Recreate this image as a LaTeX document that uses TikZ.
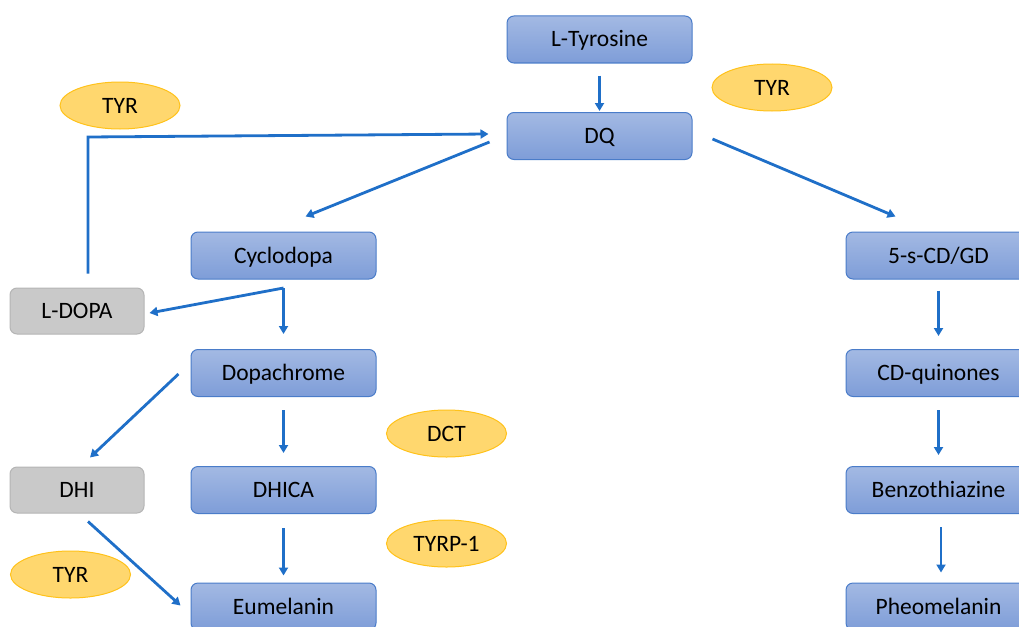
\documentclass[tikz,border=0pt]{standalone}
\usepackage{fontspec}
\setmainfont{Carlito}
\usetikzlibrary{calc,arrows.meta,shapes.geometric}
\definecolor{boxtop}{HTML}{A3B9E3}
\definecolor{boxbot}{HTML}{7E9DD8}
\definecolor{boxline}{HTML}{4A7CC9}
\definecolor{grayfill}{HTML}{C9C9C9}
\definecolor{grayline}{HTML}{B5B5B5}
\definecolor{ellfill}{HTML}{FFD76E}
\definecolor{ellline}{HTML}{FFC21A}
\definecolor{arr}{HTML}{1F6FC8}
\tikzset{
  lbl/.style={font=\fontsize{23.5}{26}\selectfont, text height=18pt, text depth=3pt},
  bluebox/.style={lbl, draw=boxline, line width=1pt, rounded corners=7pt, top color=boxtop, bottom color=boxbot,
    minimum width=185pt, minimum height=47pt, inner sep=0pt},
  graybox/.style={lbl, draw=grayline, line width=1pt, rounded corners=7pt, fill=grayfill,
    minimum width=134pt, minimum height=46pt, inner sep=0pt},
  enz/.style={lbl, ellipse, draw=ellline, line width=1pt, fill=ellfill, minimum width=120pt, minimum height=47pt,
    inner sep=0pt},
  flow/.style={draw=arr, line width=2.8pt, -{Triangle[length=8pt,width=9pt]}}
}
\begin{document}
\begin{tikzpicture}[x=1pt,y=-1pt]
\useasboundingbox (0,0) rectangle (1019,626);
\clip (0,0) rectangle (1019,626);
% blue boxes
\node[bluebox] (ltyr) at (599.5,39.5) {L-Tyrosine};
\node[bluebox] (dq) at (599.5,136) {DQ};
\node[bluebox] (cyclo) at (283.5,255.5) {Cyclodopa};
\node[bluebox] (dopa) at (283.5,373) {Dopachrome};
\node[bluebox] (dhica) at (283.5,490) {DHICA};
\node[bluebox] (eu) at (283.5,606.5) {Eumelanin};
\node[bluebox] (cdgd) at (938.5,255.5) {5-s-CD/GD};
\node[bluebox] (cdq) at (938.5,373) {CD-quinones};
\node[bluebox] (benz) at (938.5,490) {Benzothiazine};
\node[bluebox] (pheo) at (938.5,606.5) {Pheomelanin};
% gray boxes
\node[graybox] (ldopa) at (77,311) {L-DOPA};
\node[graybox] (dhi) at (77,490) {DHI};
% enzymes
\node[enz] (tyr1) at (120,105.5) {TYR};
\node[enz] (tyr2) at (772,87.5) {TYR};
\node[enz] (dct) at (446.5,433.5) {DCT};
\node[enz] (tyrp) at (446.5,543.5) {TYRP-1};
\node[enz] (tyr3) at (70.5,574.5) {TYR};
% connectors
\draw[flow] ($(ltyr.south)+(0,12)$) -- ($(dq.north)+(0,-1)$);
\coordinate (ldtop) at ($(ldopa.north)+(11,-14)$);
\coordinate (corner) at (88,137);
\draw[flow] (ldtop) -- (corner) -- ($(dq.west)+(-18,-2)$);
\draw[flow] ($(dq.west)+(-17,6)$) -- ($(cyclo.north)+(22,-15)$);
\draw[flow] ($(dq.east)+(20,3)$) -- ($(cdgd.north)+(-43,-15)$);
\coordinate (split) at ($(cyclo.south)+(0,8.5)$);
\draw[flow] (split) -- ($(ldopa.east)+(5,2)$);
\draw[flow] (split) -- ($(dopa.north)+(0,-15)$);
\draw[flow] ($(dopa.west)+(-12,1)$) -- ($(dhi.north)+(13,-9)$);
\draw[flow] ($(dopa.south)+(0,13)$) -- ($(dhica.north)+(0,-13)$);
\draw[flow] ($(dhica.south)+(0,14)$) -- ($(eu.north)+(0,-7)$);
\draw[flow] ($(dhi.south)+(11,8)$) -- ($(eu.west)+(-10,-1)$);
\draw[flow] ($(cdgd.south)+(0,11)$) -- ($(cdq.north)+(0,-13)$);
\draw[flow] ($(cdq.south)+(0,13)$) -- ($(benz.north)+(0,-11)$);
\draw[flow] ($(benz.south)+(2.5,13)$) -- ($(pheo.north)+(2.5,-10)$);
\end{tikzpicture}
\end{document}
